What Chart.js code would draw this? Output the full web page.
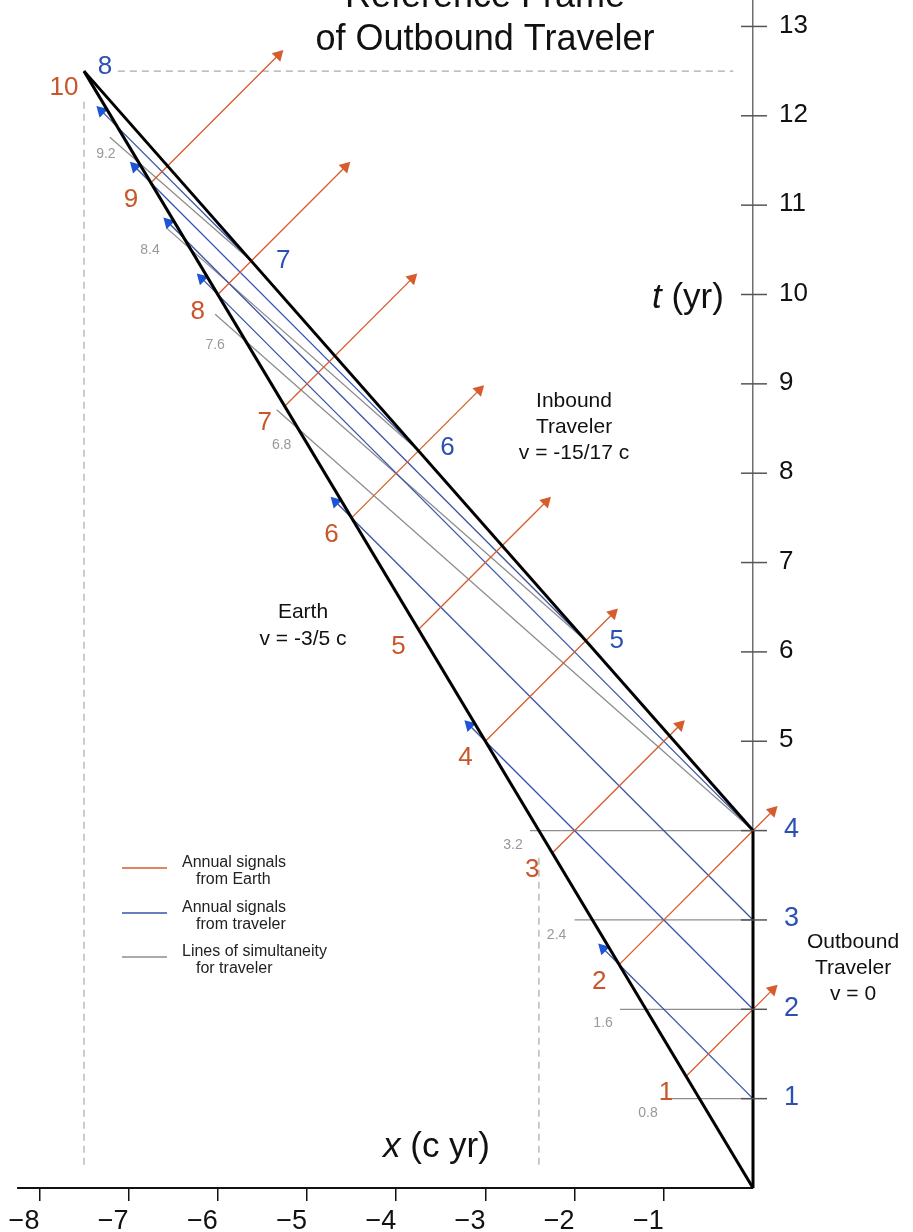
<!DOCTYPE html>
<html lang="en">
<head>
<meta charset="UTF-8">
<title>Reference Frame of Outbound Traveler</title>
<script src="https://cdn.jsdelivr.net/npm/chart.js"></script>
<style>
    html, body { margin: 0; padding: 0; background: #fff; }
    #wrap { width: 913px; height: 1232px; position: relative; }
</style>
</head>
<body>
<div id="wrap"><canvas id="myChart"></canvas></div>

<script>
    // ---- data (x in c·yr, t in yr) ----
    const xTicks = [-8, -7, -6, -5, -4, -3, -2, -1];
    const tTicks = [1, 2, 3, 4, 5, 6, 7, 8, 9, 10, 11, 12, 13];

    // world lines
    const earthX = [0, -7.5],    earthT = [0, 12.5];
    const outboundX = [0, 0],    outboundT = [0, 4];
    const inboundX = [0, -7.5],  inboundT = [4, 12.5];

    // Earth yearly ticks and the signals it sends (red)
    const earthYears = ['1', '2', '3', '4', '5', '6', '7', '8', '9', '10'];
    const earthTickX = [-0.75, -1.5, -2.25, -3, -3.75, -4.5, -5.25, -6, -6.75, -7.5];
    const earthTickT = [1.25, 2.5, 3.75, 5, 6.25, 7.5, 8.75, 10, 11.25, 12.5];
    const redEndX = [0.22, 0.22, -0.82, -1.57, -2.32, -3.07, -3.82, -4.57, -5.32];
    const redEndT = [2.22, 4.22, 5.18, 6.43, 7.68, 8.93, 10.18, 11.43, 12.68];

    // traveler yearly ticks and the signals it sends (blue)
    const travelerYears = ['1', '2', '3', '4', '5', '6', '7', '8'];
    const travelerTickX = [0, 0, 0, 0, -1.875, -3.75, -5.625, -7.5];
    const travelerTickT = [1, 2, 3, 4, 6.125, 8.25, 10.375, 12.5];
    const blueEndX = [-1.68, -3.18, -4.68, -6.18, -6.555, -6.93, -7.305];
    const blueEndT = [2.68, 5.18, 7.68, 10.18, 10.805, 11.43, 12.055];

    // lines of simultaneity for the traveler (grey), labelled with Earth's clock
    const simLabels = ['0.8', '1.6', '2.4', '3.2', '6.8', '7.6', '8.4', '9.2'];
    const simFromX = [0, 0, 0, 0, 0, -1.875, -3.75, -5.625];
    const simFromT = [1, 2, 3, 4, 4, 6.125, 8.25, 10.375];
    const simToX = [-0.93, -1.49, -2.0, -2.5, -5.34, -6.03, -6.57, -7.21];
    const simToT = [1, 2, 3, 4, 8.71, 9.78, 10.74, 11.76];

    // dashed guide lines
    const dashFromX = [-7.5, -7.12, -2.4];
    const dashFromT = [0.26, 12.5, 0.26];
    const dashToX = [-7.5, -0.22, -2.4];
    const dashToT = [12.21, 12.5, 3.75];

    // ---- styles ----
    const FONT = '"Liberation Sans", Helvetica, Arial, sans-serif';
    const RED = '#d65c2e', RED_TXT = '#c9552b';
    const BLUE = '#3953a8', BLUE_HEAD = '#1d55d6', BLUE_TXT = '#2b50b2';
    const GREY = '#8e8e8e', GREY_TXT = '#999';
    const redLabelOff = [-20, 17];
    const blueLabelOff = [[31, 0], [29, -3], [32, 0], [21, -4]];
    const simLabelOff = [[-22, 14], [-17, 14], [-18, 15], [-17, 15], [5, 35], [0, 31], [-17, 22], [-4, 17]];

    function seg(x1, t1, x2, t2) {
        return [{x: x1, y: t1}, {x: x2, y: t2}];
    }
    function line(pts, color, width, extra) {
        return Object.assign({
            data: pts, borderColor: color, borderWidth: width,
            pointRadius: 0, showLine: true, fill: false, tension: 0, clip: false
        }, extra || {});
    }
    function arrow(pts, color, head, rot) {
        return line(pts, color, 1.3, {
            pointRadius: [0, 7], pointStyle: 'triangle', pointRotation: [0, rot],
            pointBackgroundColor: head, pointBorderColor: head, pointBorderWidth: 0
        });
    }

    const datasets = [];
    // black world lines on top
    datasets.push(line(seg(earthX[0], earthT[0], earthX[1], earthT[1]), '#000', 3));
    datasets.push(line(seg(outboundX[0], outboundT[0], outboundX[1], outboundT[1]), '#000', 3));
    datasets.push(line(seg(inboundX[0], inboundT[0], inboundX[1], inboundT[1]), '#000', 3));
    // signals from Earth
    for (let i = 0; i < redEndX.length; i++) {
        datasets.push(arrow(seg(earthTickX[i], earthTickT[i], redEndX[i], redEndT[i]), RED, RED, 45));
    }
    // signals from traveler
    for (let i = 0; i < blueEndX.length; i++) {
        datasets.push(arrow(seg(travelerTickX[i], travelerTickT[i], blueEndX[i], blueEndT[i]), BLUE, BLUE_HEAD, -45));
    }
    // simultaneity
    for (let i = 0; i < simToX.length; i++) {
        datasets.push(line(seg(simFromX[i], simFromT[i], simToX[i], simToT[i]), GREY, 1.3));
    }
    // dashed guides
    for (let i = 0; i < dashToX.length; i++) {
        datasets.push(line(seg(dashFromX[i], dashFromT[i], dashToX[i], dashToT[i]), '#aaa', 1.2, {borderDash: [7, 5]}));
    }
    // x axis line
    datasets.push(line(seg(-8.25, 0, 0, 0), '#111', 1.8));

    // text, t-axis ticks and legend
    const diagramText = {
        id: 'diagramText',
        afterDatasetsDraw(chart) {
            const ctx = chart.ctx;
            const xs = chart.scales.x, ys = chart.scales.y;
            const px = v => xs.getPixelForValue(v);
            const py = v => ys.getPixelForValue(v);
            function text(s, x, y, size, color, align, base, style) {
                ctx.font = (style || '') + ' ' + size + 'px ' + FONT;
                ctx.fillStyle = color;
                ctx.textAlign = align || 'center';
                ctx.textBaseline = base || 'middle';
                ctx.fillText(s, x, y);
            }
            ctx.save();

            // t axis cross ticks + labels
            const x0 = px(0);
            ctx.strokeStyle = '#555';
            ctx.lineWidth = 1.5;
            tTicks.forEach(v => {
                const y = py(v);
                ctx.beginPath();
                ctx.moveTo(x0 - 12, y);
                ctx.lineTo(x0 + 14, y);
                ctx.stroke();
                const blue = v <= 4;
                text(String(v), blue ? 784 : 779, y - 1, blue ? 27 : 26, blue ? BLUE_TXT : '#111', 'left');
            });

            // Earth clock labels
            earthYears.forEach((s, i) => {
                text(s, px(earthTickX[i]) + redLabelOff[0], py(earthTickT[i]) + redLabelOff[1], 26, RED_TXT);
            });
            // inbound traveler clock labels (1-4 are the axis labels)
            for (let i = 4; i < travelerYears.length; i++) {
                const o = blueLabelOff[i - 4];
                text(travelerYears[i], px(travelerTickX[i]) + o[0], py(travelerTickT[i]) + o[1], 26, BLUE_TXT);
            }
            // simultaneity labels
            simLabels.forEach((s, i) => {
                const o = simLabelOff[i];
                text(s, px(simToX[i]) + o[0], py(simToT[i]) + o[1], 14, GREY_TXT);
            });

            // title
            text('Reference Frame', 485, 7, 36, '#111', 'center', 'alphabetic');
            text('of Outbound Traveler', 485, 50, 36, '#111', 'center', 'alphabetic');

            // axis titles
            ctx.font = 'italic 35px ' + FONT;
            let w = ctx.measureText('t').width;
            text('t', 652, 308, 35, '#111', 'left', 'alphabetic', 'italic');
            text(' (yr)', 652 + w, 308, 35, '#111', 'left', 'alphabetic');
            ctx.font = 'italic 35px ' + FONT;
            w = ctx.measureText('x').width;
            text('x', 383, 1157, 35, '#111', 'left', 'alphabetic', 'italic');
            text(' (c yr)', 383 + w, 1157, 35, '#111', 'left', 'alphabetic');

            // world line notes
            text('Inbound', 574, 407, 21, '#111', 'center', 'alphabetic');
            text('Traveler', 574, 433, 21, '#111', 'center', 'alphabetic');
            text('v = -15/17 c', 574, 459, 21, '#111', 'center', 'alphabetic');
            text('Earth', 303, 618, 21, '#111', 'center', 'alphabetic');
            text('v = -3/5 c', 303, 645, 21, '#111', 'center', 'alphabetic');
            text('Outbound', 853, 948, 21, '#111', 'center', 'alphabetic');
            text('Traveler', 853, 974, 21, '#111', 'center', 'alphabetic');
            text('v = 0', 853, 1000, 21, '#111', 'center', 'alphabetic');

            // legend
            const legend = [
                [RED, 'Annual signals', 'from Earth', 868],
                [BLUE, 'Annual signals', 'from traveler', 913],
                [GREY, 'Lines of simultaneity', 'for traveler', 957]
            ];
            legend.forEach(item => {
                ctx.strokeStyle = item[0];
                ctx.lineWidth = 1.5;
                ctx.beginPath();
                ctx.moveTo(122, item[3]);
                ctx.lineTo(167, item[3]);
                ctx.stroke();
                text(item[1], 182, item[3] - 1, 16, '#222', 'left', 'alphabetic');
                text(item[2], 196, item[3] + 16, 16, '#222', 'left', 'alphabetic');
            });

            ctx.restore();
        }
    };

    const ctx = document.querySelector('#myChart');
    new Chart(ctx, {
        type: 'scatter',
        data: { datasets: datasets },
        options: {
            responsive: true,
            maintainAspectRatio: false,
            animation: false,
            events: [],
            layout: { padding: 0, autoPadding: false },
            plugins: {
                legend: { display: false },
                tooltip: { enabled: false },
                title: { display: false }
            },
            scales: {
                x: {
                    type: 'linear',
                    min: -8.4417,
                    max: 1.7937,
                    position: 'bottom',
                    afterBuildTicks: s => { s.ticks = xTicks.map(v => ({value: v})); },
                    afterFit: s => { s.height = 44; s.paddingLeft = 0; s.paddingRight = 0; },
                    grid: { drawOnChartArea: false, drawTicks: true, tickLength: 13, color: '#111', lineWidth: 1.5 },
                    border: { display: false },
                    ticks: {
                        align: 'end',
                        padding: 4,
                        autoSkip: false,
                        maxRotation: 0,
                        color: '#111',
                        font: { size: 27, family: FONT },
                        callback: v => '\u2212' + Math.abs(v)
                    }
                },
                y: {
                    type: 'linear',
                    min: 0,
                    max: 13.296,
                    position: { x: 0 },
                    afterBuildTicks: s => { s.ticks = tTicks.map(v => ({value: v})); },
                    grid: { drawOnChartArea: false, drawTicks: false },
                    ticks: { display: false },
                    border: { color: '#6f6f6f', width: 1.5 }
                }
            }
        },
        plugins: [diagramText]
    });
</script>
</body>
</html>
